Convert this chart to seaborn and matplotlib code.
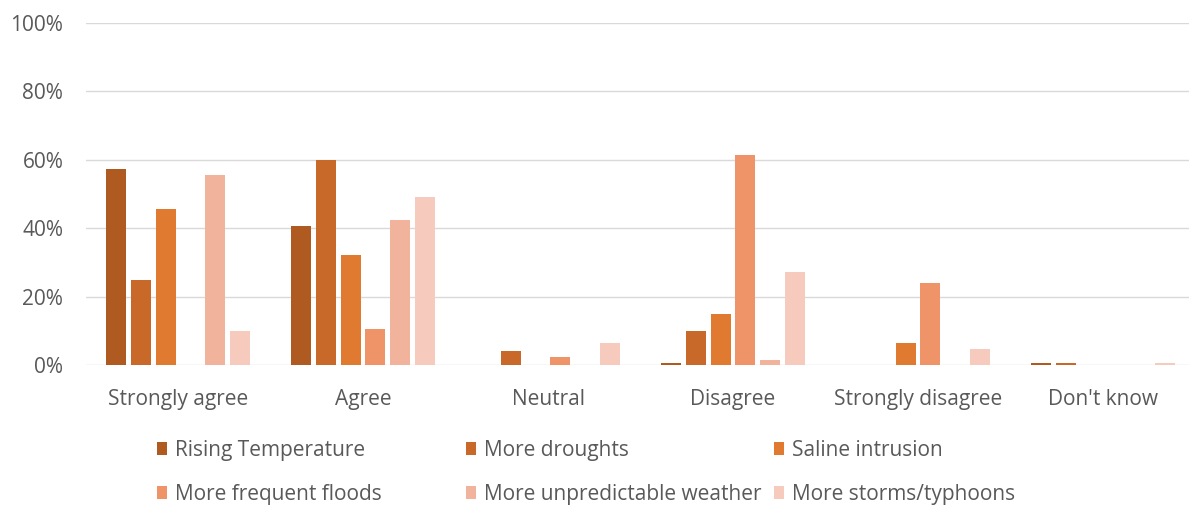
import matplotlib
matplotlib.use("Agg")
import matplotlib.pyplot as plt
import seaborn as sns
import pandas as pd
from matplotlib.patches import Patch

categories = ["Strongly agree", "Agree", "Neutral", "Disagree", "Strongly disagree", "Don't know"]
series = ["Rising Temperature", "More droughts", "Saline intrusion",
          "More frequent floods", "More unpredictable weather", "More storms/typhoons"]

rising_temperature = [57.2, 40.5, 0.0, 0.7, 0.0, 0.7]
more_droughts = [24.9, 59.9, 4.1, 9.8, 0.0, 0.7]
saline_intrusion = [45.7, 32.3, 0.0, 14.8, 6.4, 0.0]
more_frequent_floods = [0.0, 10.5, 2.4, 61.5, 23.9, 0.0]
more_unpredictable_weather = [55.6, 42.3, 0.0, 1.6, 0.0, 0.0]
more_storms_typhoons = [9.8, 49.0, 6.5, 27.2, 4.8, 0.7]

y_ticks = [0, 20, 40, 60, 80, 100]
y_tick_labels = ["0%", "20%", "40%", "60%", "80%", "100%"]

colors = ["#AE5A21", "#C8692A", "#E07A30", "#EF9368", "#F2B39C", "#F6CBBE"]

values = [rising_temperature, more_droughts, saline_intrusion,
          more_frequent_floods, more_unpredictable_weather, more_storms_typhoons]
rows = []
for name, vals in zip(series, values):
    for cat, v in zip(categories, vals):
        rows.append({"category": cat, "series": name, "value": v})
df = pd.DataFrame(rows)

sns.set_style("white")
plt.rcParams["font.family"] = ["Open Sans", "DejaVu Sans"]

fig = plt.figure(figsize=(11.89, 5.05), dpi=100)
# plot area runs slightly past the right edge of the canvas
ax = fig.add_axes([85.5 / 1189, 1 - 365 / 505, 1110 / 1189, (365 - 23) / 505])

sns.barplot(data=df, x="category", y="value", hue="series", order=categories,
            hue_order=series, palette=colors, saturation=1, width=0.8, gap=0.18,
            linewidth=0, ax=ax, legend=False)

ax.set_ylim(0, 100)
ax.set_yticks(y_ticks)
ax.set_yticklabels(y_tick_labels)
ax.set_xlim(-0.5, len(categories) - 0.5)
ax.yaxis.grid(True, color="#D9D9D9", linewidth=1.0)
ax.set_axisbelow(True)
for s in ax.spines.values():
    s.set_visible(False)
ax.tick_params(axis="both", length=0, labelsize=15, labelcolor="#595959")
ax.tick_params(axis="y", pad=16)
ax.tick_params(axis="x", pad=17)
ax.set_xlabel("")
ax.set_ylabel("")

# Legend laid out as three evenly spaced columns of two entries
col_x = [157, 466, 774]
for c in range(3):
    handles = []
    for r in range(2):
        i = r * 3 + c
        handles.append(Patch(facecolor=colors[i], edgecolor="none", label=series[i]))
    leg = fig.legend(handles=handles, loc="upper left",
                     bbox_to_anchor=(col_x[c] / 1189, 1 - 440 / 505),
                     frameon=False, fontsize=15, handlelength=0.5, handleheight=0.6,
                     handletextpad=0.38, labelspacing=1.1, borderaxespad=0, borderpad=0)
    for t in leg.get_texts():
        t.set_color("#595959")

fig.savefig("out.png", dpi=100)
